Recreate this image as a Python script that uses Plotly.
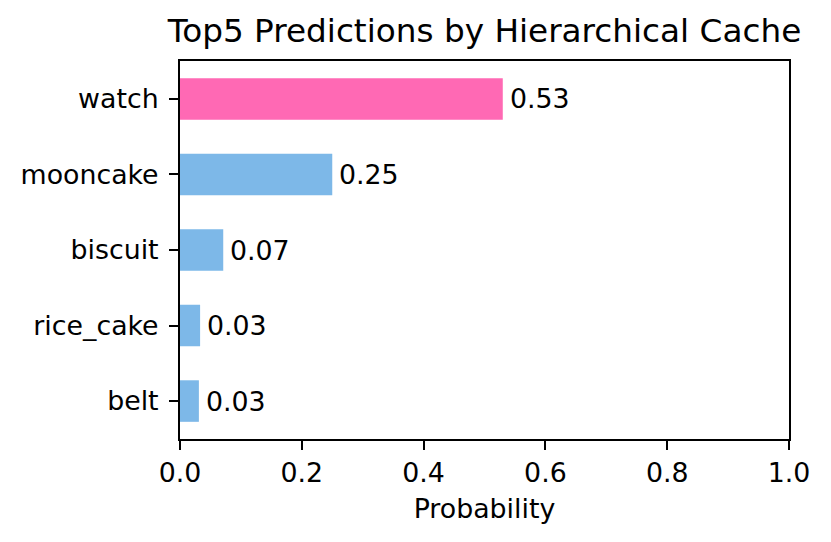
import plotly.graph_objects as go

categories = ["belt", "rice_cake", "biscuit", "mooncake", "watch"]
probabilities = [0.031, 0.033, 0.071, 0.25, 0.53]
labels = ["0.03", "0.03", "0.07", "0.25", "0.53"]
highlight = "watch"

PINK = "#ff69b4"
BLUE = "#7db8e8"
colors = [PINK if c == highlight else BLUE for c in categories]

FONT = "DejaVu Sans"
TICK = 26.8
TITLE = 32.7

W, H = 823, 534  # page body has an 8px offset

fig = go.Figure()
fig.add_trace(go.Bar(
    x=probabilities, y=categories, orientation="h",
    marker=dict(color=colors, line=dict(width=0)),
    width=0.55, hoverinfo="skip",
))

for c, v, t in zip(categories, probabilities, labels):
    fig.add_annotation(x=v, y=c, text=t, showarrow=False, xanchor="left",
                       yanchor="middle", xshift=5,
                       font=dict(family=FONT, size=TICK, color="black"))

fig.update_layout(
    width=W, height=H,
    margin=dict(l=172, r=42, t=53, b=103),
    paper_bgcolor="white", plot_bgcolor="white",
    showlegend=False,
    font=dict(family=FONT, size=TICK, color="black"),
    title=dict(text="Top5 Predictions by Hierarchical Cache",
               x=0.5, xref="paper", xanchor="center",
               y=1 - 23 / H, yref="container", yanchor="middle",
               font=dict(family=FONT, size=TITLE, color="black")),
)
fig.update_xaxes(
    range=[0, 1], tickvals=[0, 0.2, 0.4, 0.6, 0.8, 1.0],
    ticktext=["0.0", "0.2", "0.4", "0.6", "0.8", "1.0"],
    showgrid=False, zeroline=False,
    showline=True, mirror=True, linecolor="black", linewidth=2,
    ticks="outside", ticklen=9, tickwidth=2, tickcolor="black",
    title=dict(text="Probability", standoff=12,
               font=dict(family=FONT, size=TICK, color="black")),
)
fig.update_yaxes(
    type="category", categoryorder="array", categoryarray=categories,
    range=[-0.5025, 4.5025],
    showgrid=False, zeroline=False,
    showline=True, mirror=True, linecolor="black", linewidth=2,
    ticks="outside", ticklen=9, tickwidth=2, tickcolor="black",
    ticklabelstandoff=5,
)

fig.write_html("out.html")
